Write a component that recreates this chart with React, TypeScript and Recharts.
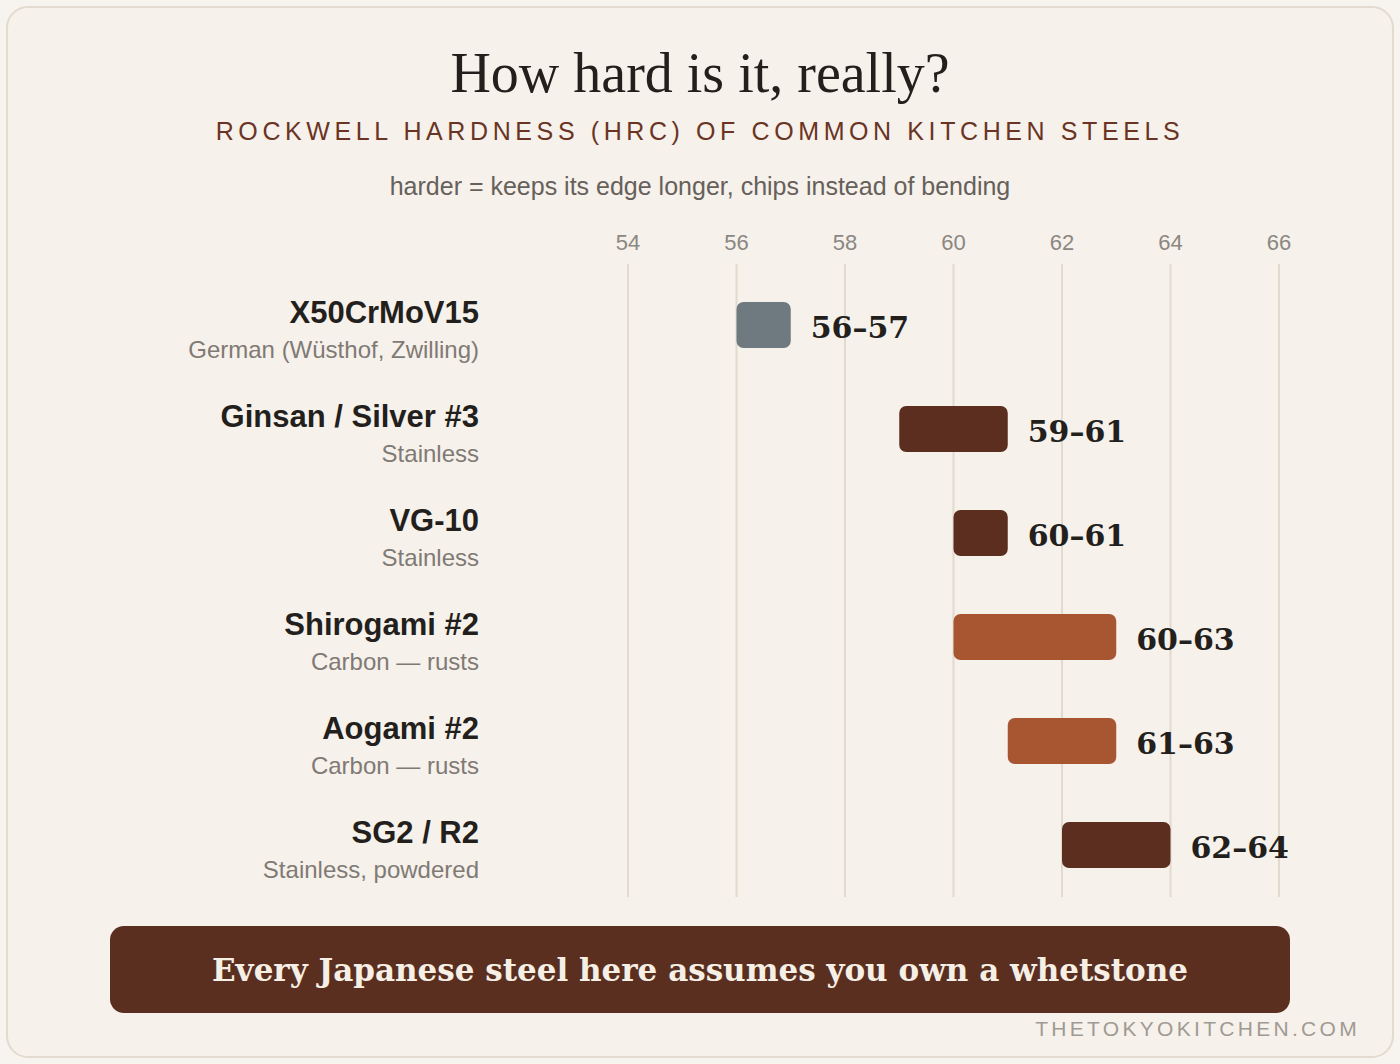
import { BarChart, Bar, XAxis, YAxis, CartesianGrid, Cell, LabelList } from "recharts";

// steels, top to bottom
const steels = ["X50CrMoV15", "Ginsan / Silver #3", "VG-10", "Shirogami #2", "Aogami #2", "SG2 / R2"];
const notes = [
  "German (Wüsthof, Zwilling)",
  "Stainless",
  "Stainless",
  "Carbon — rusts",
  "Carbon — rusts",
  "Stainless, powdered",
];
const hrcLow = [56, 59, 60, 60, 61, 62];
const hrcHigh = [57, 61, 61, 63, 63, 64];
const kinds = ["german", "stainless", "stainless", "carbon", "carbon", "stainless"];
const hrcTicks = [54, 56, 58, 60, 62, 64, 66];

const kindColors: Record<string, string> = {
  german: "#6e7a80",
  stainless: "#5b2e20",
  carbon: "#a85531",
};

const data = steels.map((name, i) => ({
  name,
  range: [hrcLow[i], hrcHigh[i]],
  label: `${hrcLow[i]}–${hrcHigh[i]}`,
}));

const SANS = "'Liberation Sans', Arial, sans-serif";
const SERIF = "'Liberation Serif', 'Times New Roman', serif";
const BOLD_SERIF = "'DejaVu Serif', serif";

function SteelTick(props: any) {
  const { x, y, payload } = props;
  const i = payload.index;
  return (
    <g>
      <text x={x} y={y - 2} textAnchor="end" fontFamily={SANS} fontWeight={700} fontSize={31} fill="#231f1c">
        {payload.value}
      </text>
      <text x={x} y={y + 33} textAnchor="end" fontFamily={SANS} fontSize={24} fill="#807a75">
        {notes[i]}
      </text>
    </g>
  );
}

function HrcTick(props: any) {
  const { x, y, payload } = props;
  return (
    <text x={x} y={y} textAnchor="middle" fontFamily={SANS} fontSize={22} fill="#8b8782">
      {payload.value}
    </text>
  );
}

function RangeLabel(props: any) {
  const { x, y, width, height, value } = props;
  return (
    <text
      x={x + width + 20}
      y={y + height / 2 + 13}
      fontFamily={BOLD_SERIF}
      fontWeight={700}
      fontSize={30}
      fill="#231f1c"
    >
      {value}
    </text>
  );
}

export default function App() {
  return (
    <div style={{ position: "absolute", left: 0, top: 0, width: 1400, height: 1064, background: "#f7f3ee" }}>
      <div
        style={{
          position: "absolute",
          left: 6,
          top: 6,
          width: 1388,
          height: 1052,
          boxSizing: "border-box",
          border: "2px solid #e3dbcf",
          borderRadius: 22,
          background: "#f6f1eb",
        }}
      />

      <div style={{ position: "absolute", left: 0, top: 45, width: 1400, textAlign: "center", fontFamily: SERIF, fontSize: 56, lineHeight: 1, color: "#231f1c" }}>
        How hard is it, really?
      </div>
      <div style={{ position: "absolute", left: 0, top: 119, width: 1400, textAlign: "center", fontFamily: SANS, fontSize: 25, lineHeight: 1, letterSpacing: 4.6, color: "#6a3424" }}>
        ROCKWELL HARDNESS (HRC) OF COMMON KITCHEN STEELS
      </div>
      <div style={{ position: "absolute", left: 0, top: 174, width: 1400, textAlign: "center", fontFamily: SANS, fontSize: 25, lineHeight: 1, color: "#66605b" }}>
        harder = keeps its edge longer, chips instead of bending
      </div>

      <div style={{ position: "absolute", left: 0, top: 0 }}>
        <BarChart
          width={1400}
          height={910}
          data={data}
          layout="vertical"
          margin={{ top: 224, right: 121, bottom: 13, left: 0 }}
        >
          <CartesianGrid horizontal={false} stroke="#e2dace" strokeWidth={2} />
          <XAxis
            type="number"
            orientation="top"
            domain={[54, 66]}
            ticks={hrcTicks}
            height={40}
            axisLine={false}
            tickLine={false}
            tickSize={0}
            tickMargin={14}
            tick={<HrcTick />}
            interval={0}
          />
          <YAxis
            type="category"
            dataKey="name"
            width={628}
            axisLine={false}
            tickLine={false}
            tickSize={0}
            tickMargin={149}
            padding={{ top: 9, bottom: 0 }}
            tick={<SteelTick />}
            interval={0}
          />
          <Bar dataKey="range" barSize={46} radius={7} isAnimationActive={false}>
            {data.map((d, i) => (
              <Cell key={d.name} fill={kindColors[kinds[i]]} />
            ))}
            <LabelList dataKey="label" content={<RangeLabel />} />
          </Bar>
        </BarChart>
      </div>

      <div
        style={{
          position: "absolute",
          left: 110,
          top: 926,
          width: 1180,
          height: 87,
          borderRadius: 14,
          background: "#5b2f20",
          display: "flex",
          alignItems: "center",
          justifyContent: "center",
          fontFamily: BOLD_SERIF,
          fontWeight: 700,
          fontSize: 31,
          color: "#f6efe5",
        }}
      >
        Every Japanese steel here assumes you own a whetstone
      </div>

      <div style={{ position: "absolute", right: 40, top: 1018, fontFamily: SANS, fontSize: 21, lineHeight: 1, letterSpacing: 3.3, color: "#a09a94" }}>
        THETOKYOKITCHEN.COM
      </div>
    </div>
  );
}
